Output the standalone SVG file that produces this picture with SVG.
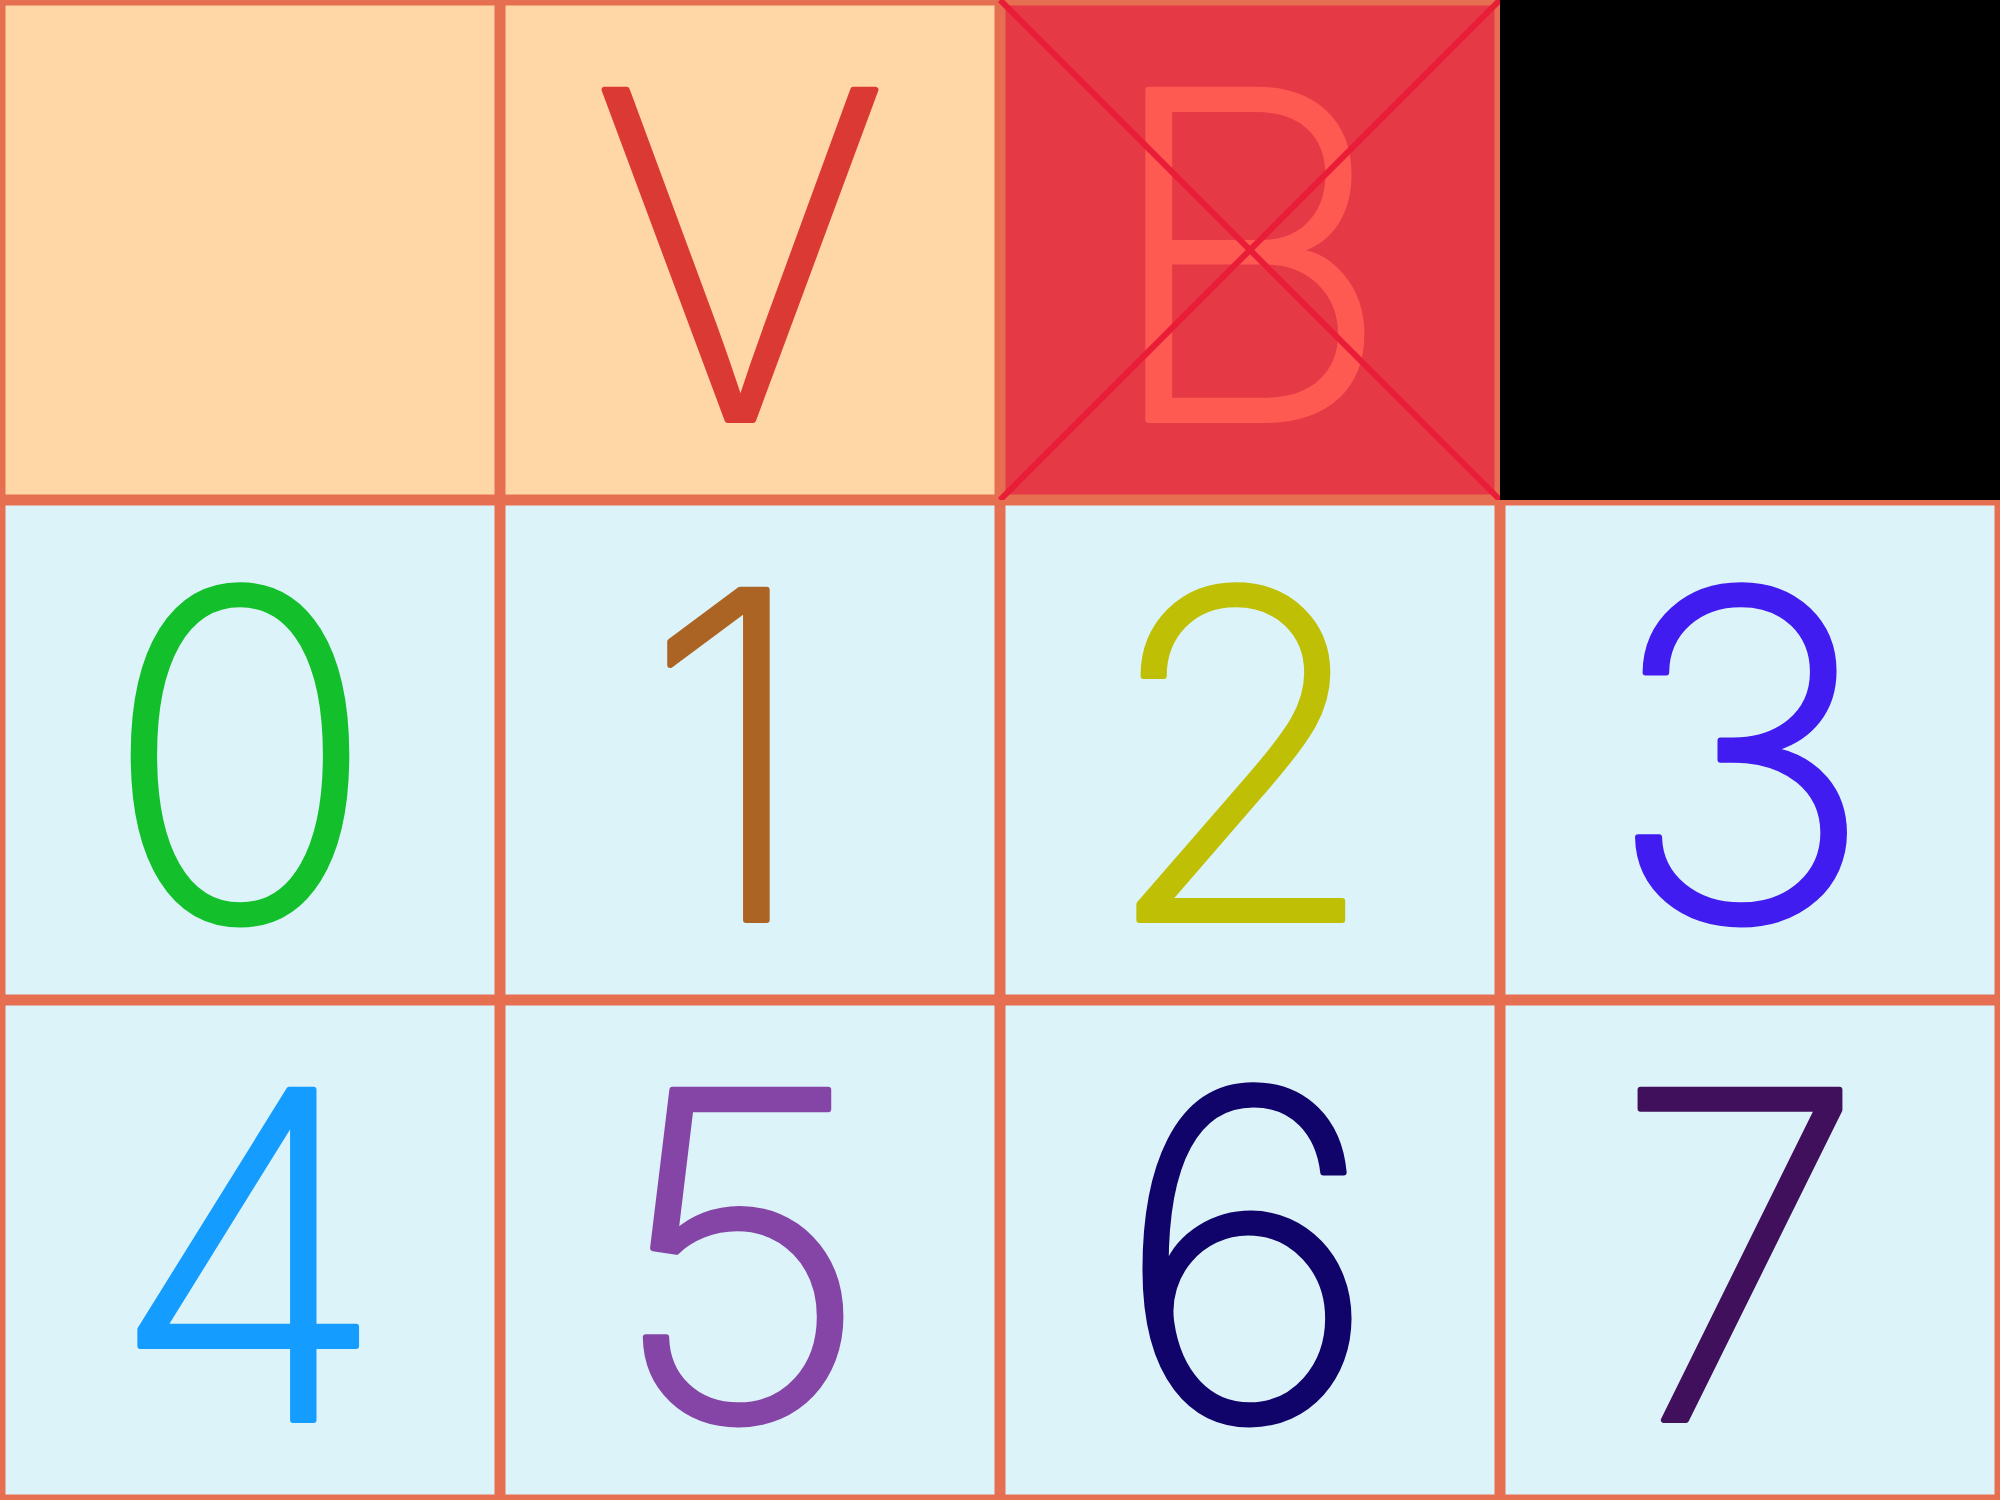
<svg xmlns="http://www.w3.org/2000/svg" width="2000" height="1500" viewBox="0 0 2000 1500">
  <style>
    .cell { stroke: #E76F51; stroke-width: 5.5; }
    .peach { fill: #FFD6A5; }
    .blue { fill: #DCF3F9; }
    .red { fill: #E63946; }
    .glyph { font-family: Inter, "Noto Sans", "DejaVu Sans", sans-serif; font-weight: 220; font-size: 454px; text-anchor: middle; fill: currentColor; stroke: currentColor; stroke-width: 6; stroke-linejoin: round; }
    .cross { stroke: #EA1D39; stroke-width: 6; stroke-linecap: butt; }
  </style>
  <g id="cell-0-0">
    <rect class="cell peach" x="2.75" y="2.75" width="494.5" height="494.5"/>
  </g>
  <g id="cell-1-0">
    <rect class="cell peach" x="502.75" y="2.75" width="494.5" height="494.5"/>
    <text class="glyph" x="740" y="420" color="#DB3A34">V</text>
  </g>
  <g id="cell-2-0">
    <rect class="cell red" x="1002.75" y="2.75" width="494.5" height="494.5"/>
    <text class="glyph" x="1247" y="420" color="#FF5A52">B</text>
    <line class="cross" x1="1000" y1="0" x2="1500" y2="500"/>
    <line class="cross" x1="1500" y1="0" x2="1000" y2="500"/>
  </g>
  <g id="cell-3-0">
    <rect x="1500" y="0" width="500" height="500" fill="#000000"/>
  </g>
  <g id="cell-0-1">
    <rect class="cell blue" x="2.75" y="502.75" width="494.5" height="494.5"/>
    <text class="glyph" x="240" y="920" color="#13C02C">0</text>
  </g>
  <g id="cell-1-1">
    <rect class="cell blue" x="502.75" y="502.75" width="494.5" height="494.5"/>
    <text class="glyph" x="728" y="920" color="#AB6424">1</text>
  </g>
  <g id="cell-2-1">
    <rect class="cell blue" x="1002.75" y="502.75" width="494.5" height="494.5"/>
    <text class="glyph" x="1240" y="920" color="#BFBF06">2</text>
  </g>
  <g id="cell-3-1">
    <rect class="cell blue" x="1502.75" y="502.75" width="494.5" height="494.5"/>
    <text class="glyph" x="1740" y="920" color="#411CF0">3</text>
  </g>
  <g id="cell-0-2">
    <rect class="cell blue" x="2.75" y="1002.75" width="494.5" height="494.5"/>
    <text class="glyph" x="248" y="1420" color="#149CFF">4</text>
  </g>
  <g id="cell-1-2">
    <rect class="cell blue" x="502.75" y="1002.75" width="494.5" height="494.5"/>
    <text class="glyph" x="740" y="1420" color="#8545A6">5</text>
  </g>
  <g id="cell-2-2">
    <rect class="cell blue" x="1002.75" y="1002.75" width="494.5" height="494.5"/>
    <text class="glyph" x="1247" y="1420" color="#10036A">6</text>
  </g>
  <g id="cell-3-2">
    <rect class="cell blue" x="1502.75" y="1002.75" width="494.5" height="494.5"/>
    <text class="glyph" x="1740" y="1420" color="#41105D">7</text>
  </g>
</svg>
